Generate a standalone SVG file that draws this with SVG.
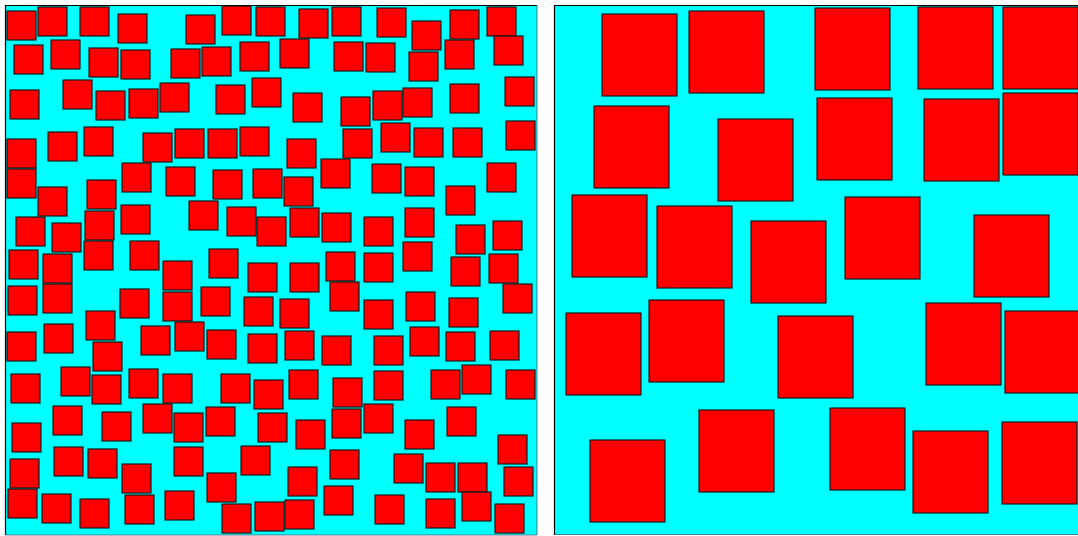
<svg xmlns="http://www.w3.org/2000/svg" width="1078" height="536" viewBox="0 0 1078 536">
<style>
.bg{fill:#00ffff;stroke:none}
.sq{fill:#ff0000;stroke:#1a1a1a;stroke-width:1.2}
.edge{stroke:#000;stroke-width:1.2;fill:none}
.edge2{stroke:#557;stroke-width:0.8;fill:none}
</style>
<defs>
<rect id="s" width="29" height="29" class="sq"/>
<rect id="b" width="75" height="82" class="sq"/>
</defs>
<rect x="0" y="0" width="1078" height="536" fill="#ffffff"/>
<g id="left-panel">
<rect class="bg" x="5" y="5" width="532" height="530"/>
<g id="left-squares">
<use href="#s" x="7" y="11"/><use href="#s" x="38" y="7"/><use href="#s" x="80" y="7"/><use href="#s" x="118" y="14"/><use href="#s" x="186" y="15"/><use href="#s" x="222" y="6"/><use href="#s" x="256" y="7"/>
<use href="#s" x="14" y="45"/><use href="#s" x="51" y="40"/><use href="#s" x="89" y="48"/><use href="#s" x="121" y="50"/><use href="#s" x="171" y="49"/><use href="#s" x="202" y="47"/><use href="#s" x="240" y="42"/>
<use href="#s" x="10" y="90"/><use href="#s" x="63" y="80"/><use href="#s" x="96" y="91"/><use href="#s" x="129" y="89"/><use href="#s" x="160" y="83"/><use href="#s" x="216" y="85"/><use href="#s" x="252" y="78"/>
<use href="#s" x="7" y="139"/><use href="#s" x="48" y="132"/><use href="#s" x="84" y="127"/><use href="#s" x="143" y="133"/><use href="#s" x="175" y="129"/><use href="#s" x="208" y="129"/><use href="#s" x="240" y="127"/>
<use href="#s" x="7" y="169"/><use href="#s" x="122" y="163"/><use href="#s" x="166" y="167"/><use href="#s" x="213" y="170"/><use href="#s" x="253" y="169"/>
<use href="#s" x="299" y="9"/><use href="#s" x="332" y="7"/><use href="#s" x="377" y="8"/><use href="#s" x="412" y="21"/><use href="#s" x="450" y="10"/><use href="#s" x="487" y="7"/>
<use href="#s" x="280" y="39"/><use href="#s" x="334" y="42"/><use href="#s" x="366" y="43"/><use href="#s" x="409" y="52"/><use href="#s" x="445" y="40"/><use href="#s" x="494" y="36"/>
<use href="#s" x="293" y="93"/><use href="#s" x="341" y="97"/><use href="#s" x="373" y="91"/><use href="#s" x="403" y="88"/><use href="#s" x="450" y="84"/><use href="#s" x="505" y="77"/>
<use href="#s" x="287" y="139"/><use href="#s" x="343" y="129"/><use href="#s" x="381" y="123"/><use href="#s" x="414" y="128"/><use href="#s" x="453" y="128"/><use href="#s" x="506" y="121"/>
<use href="#s" x="284" y="177"/><use href="#s" x="321" y="159"/><use href="#s" x="372" y="164"/><use href="#s" x="405" y="167"/><use href="#s" x="487" y="163"/>
<use href="#s" x="38" y="187"/><use href="#s" x="87" y="180"/>
<use href="#s" x="16" y="217"/><use href="#s" x="52" y="223"/><use href="#s" x="85" y="211"/><use href="#s" x="121" y="205"/><use href="#s" x="189" y="201"/><use href="#s" x="227" y="207"/><use href="#s" x="257" y="217"/>
<use href="#s" x="9" y="250"/><use href="#s" x="43" y="254"/><use href="#s" x="84" y="241"/><use href="#s" x="130" y="241"/><use href="#s" x="163" y="261"/><use href="#s" x="209" y="249"/><use href="#s" x="248" y="263"/>
<use href="#s" x="8" y="286"/><use href="#s" x="43" y="284"/><use href="#s" x="120" y="289"/><use href="#s" x="163" y="292"/><use href="#s" x="201" y="287"/><use href="#s" x="244" y="297"/>
<use href="#s" x="7" y="332"/><use href="#s" x="44" y="324"/><use href="#s" x="86" y="311"/><use href="#s" x="93" y="342"/><use href="#s" x="141" y="326"/><use href="#s" x="175" y="322"/><use href="#s" x="207" y="330"/><use href="#s" x="248" y="334"/>
<use href="#s" x="446" y="186"/>
<use href="#s" x="290" y="208"/><use href="#s" x="322" y="213"/><use href="#s" x="364" y="217"/><use href="#s" x="405" y="208"/><use href="#s" x="456" y="225"/><use href="#s" x="493" y="221"/>
<use href="#s" x="290" y="263"/><use href="#s" x="326" y="252"/><use href="#s" x="364" y="253"/><use href="#s" x="403" y="242"/><use href="#s" x="451" y="257"/><use href="#s" x="489" y="254"/>
<use href="#s" x="280" y="299"/><use href="#s" x="330" y="282"/><use href="#s" x="364" y="300"/><use href="#s" x="406" y="292"/><use href="#s" x="449" y="298"/><use href="#s" x="503" y="284"/>
<use href="#s" x="285" y="331"/><use href="#s" x="322" y="336"/><use href="#s" x="374" y="336"/><use href="#s" x="410" y="327"/><use href="#s" x="446" y="332"/><use href="#s" x="490" y="331"/>
<use href="#s" x="11" y="374"/><use href="#s" x="61" y="367"/><use href="#s" x="92" y="375"/><use href="#s" x="129" y="369"/><use href="#s" x="163" y="374"/><use href="#s" x="221" y="374"/><use href="#s" x="254" y="380"/>
<use href="#s" x="53" y="406"/><use href="#s" x="12" y="423"/><use href="#s" x="102" y="412"/><use href="#s" x="143" y="404"/><use href="#s" x="174" y="413"/><use href="#s" x="206" y="407"/><use href="#s" x="258" y="413"/>
<use href="#s" x="54" y="447"/><use href="#s" x="88" y="449"/><use href="#s" x="10" y="459"/><use href="#s" x="122" y="464"/><use href="#s" x="174" y="447"/><use href="#s" x="241" y="446"/><use href="#s" x="207" y="473"/>
<use href="#s" x="8" y="489"/><use href="#s" x="42" y="494"/><use href="#s" x="80" y="499"/><use href="#s" x="125" y="495"/><use href="#s" x="165" y="491"/><use href="#s" x="222" y="504"/><use href="#s" x="255" y="502"/>
<use href="#s" x="289" y="370"/><use href="#s" x="333" y="378"/><use href="#s" x="374" y="371"/><use href="#s" x="431" y="370"/><use href="#s" x="462" y="365"/><use href="#s" x="506" y="370"/>
<use href="#s" x="296" y="420"/><use href="#s" x="332" y="409"/><use href="#s" x="364" y="404"/><use href="#s" x="405" y="420"/><use href="#s" x="447" y="407"/><use href="#s" x="498" y="435"/>
<use href="#s" x="330" y="450"/><use href="#s" x="288" y="467"/><use href="#s" x="394" y="454"/><use href="#s" x="426" y="463"/><use href="#s" x="458" y="463"/><use href="#s" x="504" y="467"/>
<use href="#s" x="324" y="486"/><use href="#s" x="285" y="500"/><use href="#s" x="375" y="495"/><use href="#s" x="426" y="499"/><use href="#s" x="462" y="492"/><use href="#s" x="495" y="504"/>
</g>
<path class="edge" d="M5.5,535 V5.5 H537"/>
<path class="edge2" d="M537,5.5 V535 H5.5"/>
</g>
<g id="right-panel">
<rect class="bg" x="554" y="5" width="524" height="530"/>
<g id="right-squares">
<use href="#b" x="602" y="14"/><use href="#b" x="689" y="11"/><use href="#b" x="815" y="8"/><use href="#b" x="918" y="7"/><use href="#b" x="1003" y="7"/>
<use href="#b" x="594" y="106"/><use href="#b" x="718" y="119"/><use href="#b" x="817" y="98"/><use href="#b" x="924" y="99"/><use href="#b" x="1003" y="93"/>
<use href="#b" x="572" y="195"/><use href="#b" x="657" y="206"/><use href="#b" x="751" y="221"/><use href="#b" x="845" y="197"/><use href="#b" x="974" y="215"/>
<use href="#b" x="566" y="313"/><use href="#b" x="649" y="300"/><use href="#b" x="778" y="316"/><use href="#b" x="926" y="303"/><use href="#b" x="1005" y="311"/>
<use href="#b" x="590" y="440"/><use href="#b" x="699" y="410"/><use href="#b" x="830" y="408"/><use href="#b" x="913" y="431"/><use href="#b" x="1002" y="422"/>
</g>
<path class="edge" d="M554.5,535 V5.5 H1078"/>
<path class="edge2" d="M554.5,534.5 H1078"/>
</g>
</svg>
